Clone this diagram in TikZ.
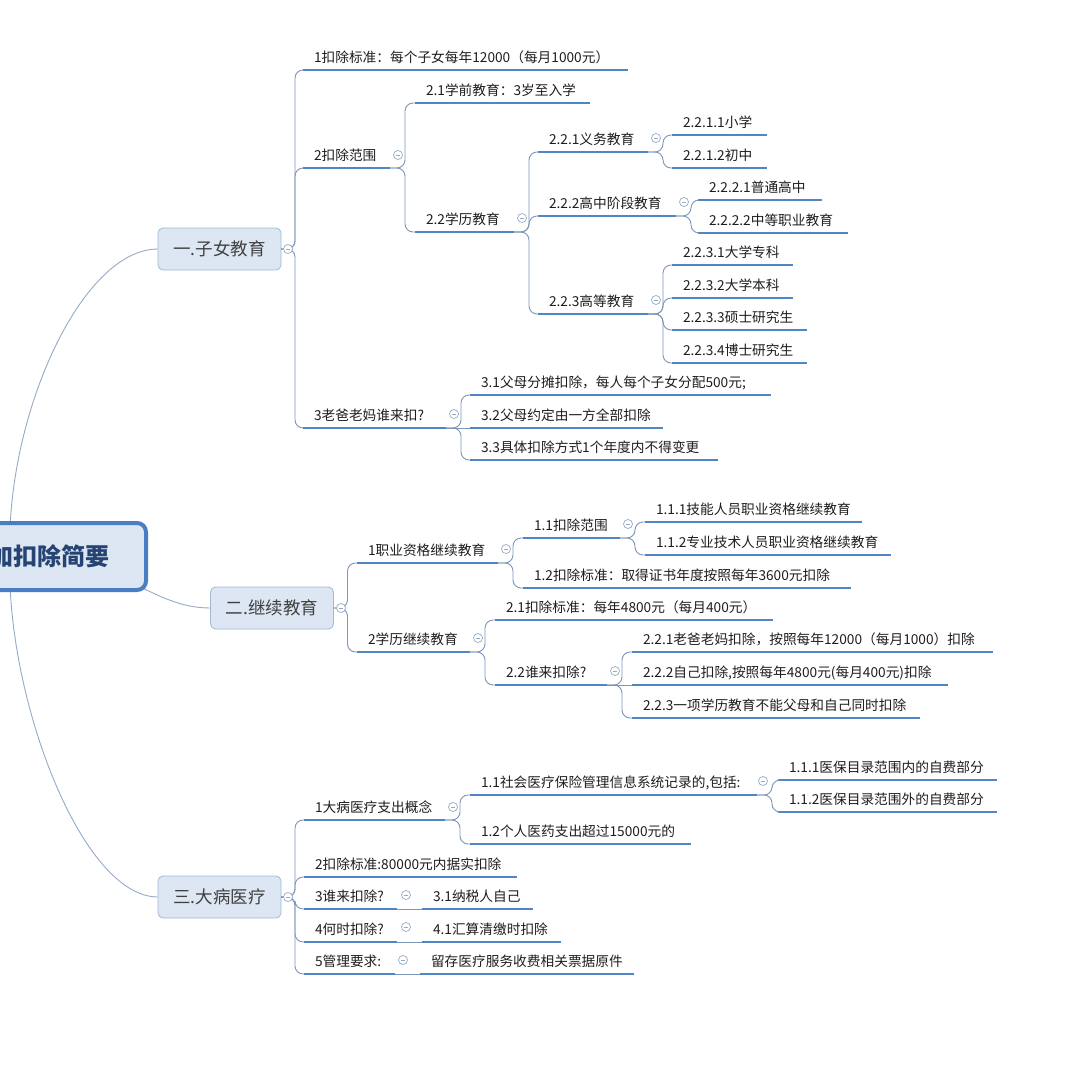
\documentclass[tikz,border=0pt]{standalone}
\usepackage{fontspec}
\newfontfamily\cjk{Noto Sans CJK SC}
\usetikzlibrary{backgrounds,calc}
\definecolor{uline}{RGB}{79,134,198}
\definecolor{connc}{RGB}{125,150,185}
\definecolor{rootc}{RGB}{150,170,200}
\definecolor{boxfill}{RGB}{221,231,243}
\definecolor{boxdraw}{RGB}{160,185,215}
\definecolor{rootdraw}{RGB}{74,126,196}
\definecolor{roottext}{RGB}{38,68,115}
\definecolor{txt}{RGB}{30,30,30}
\definecolor{markc}{RGB}{150,170,195}
\newcommand{\lf}[5]{%
  \pgfmathsetlengthmacro{\lfw}{#4-22}%
  \node[leaf, text width=\lfw] (#1) at (#2,#3) {#5};
  \draw[ul] (#1.south west) -- (#1.south east);}
\newcommand{\mk}[3]{\node[colbtn] (#1) at (#2,#3) {};}
\newcommand{\br}[2]{\draw[conn] (#1.south east) -- ++(15,0) |- (#2.south west);}
\newcommand{\st}[2]{\draw[conn] (#1.south east) -- (#2.south west);}
\newcommand{\bbr}[2]{\draw[conn] (#1.east) -- ++(14,0) |- (#2.south west);}
\begin{document}
\begin{tikzpicture}[x=1pt,y=-1pt,
  leaf/.style={anchor=south west, inner xsep=11pt, inner ysep=5pt, outer sep=0pt,
    text height=10pt, text depth=3pt, align=left,
    font=\cjk\fontsize{13.7}{16}\selectfont, text=txt},
  ul/.style={draw=uline, line width=2.6pt},
  conn/.style={draw=connc, line width=0.9pt, rounded corners=8pt},
  rootconn/.style={draw=rootc, line width=0.9pt},
  topic/.style={rectangle, rounded corners=5pt, draw=boxdraw, fill=boxfill,
    line width=0.8pt, minimum width=123pt, minimum height=42pt, outer sep=0pt,
    font=\cjk\fontsize{17.5}{20}\selectfont, text=txt!85},
  rootbox/.style={rectangle, rounded corners=9pt, draw=rootdraw, fill=boxfill,
    line width=4pt, minimum height=67pt, text width=200pt, align=right,
    inner xsep=36pt, font=\cjk\bfseries\fontsize{24}{28}\selectfont, text=roottext},
  colbtn/.style={circle, draw=markc, fill=white, line width=0.7pt, minimum size=9pt,
    inner sep=0pt, path picture={\draw[markc, line width=0.7pt]
      ([xshift=2.3pt]path picture bounding box.west) --
      ([xshift=-2.3pt]path picture bounding box.east);}}
]
\useasboundingbox (0,0) rectangle (1072,1079);
\clip (0,0) rectangle (1072,1079);

% root and main topics
\node[rootbox, anchor=east] (root) at (148,556.5) {加扣除简要};
\node[topic] (t1) at (219.5,249) {一.子女教育};
\node[topic] (t2) at (272,608) {二.继续教育};
\node[topic] (t3) at (219.5,897) {三.大病医疗};

\begin{scope}[on background layer]
\fill[white] (0,0) rectangle (1072,1079);
\draw[rootconn] (root.center) .. controls (5,420) and (80,249) .. (t1.west);
\draw[rootconn] (root.center) .. controls (130,560) and (150,608) .. (t2.west);
\draw[rootconn] (root.center) .. controls (5,692) and (80,897) .. (t3.west);
\end{scope}

% ===== 一.子女教育 =====
\lf{a1}{303}{70}{325}{1扣除标准：每个子女每年12000（每月1000元）}
\lf{a2}{303}{168}{87}{2扣除范围}
\lf{a3}{303}{428}{143}{3老爸老妈谁来扣?}
\lf{a21}{415}{103}{175}{2.1学前教育：3岁至入学}
\lf{a22}{415}{232}{99}{2.2学历教育}
\lf{a221}{538}{152}{110}{2.2.1义务教育}
\lf{a222}{538}{216}{138}{2.2.2高中阶段教育}
\lf{a223}{538}{314}{110}{2.2.3高等教育}
\lf{a2211}{672}{135}{95}{2.2.1.1小学}
\lf{a2212}{672}{168}{95}{2.2.1.2初中}
\lf{a2221}{698}{200}{124}{2.2.2.1普通高中}
\lf{a2222}{698}{233}{150}{2.2.2.2中等职业教育}
\lf{a2231}{672}{265}{121}{2.2.3.1大学专科}
\lf{a2232}{672}{298}{121}{2.2.3.2大学本科}
\lf{a2233}{672}{330}{135}{2.2.3.3硕士研究生}
\lf{a2234}{672}{363}{135}{2.2.3.4博士研究生}
\lf{a31}{470}{395}{301}{3.1父母分摊扣除，每人每个子女分配500元;}
\lf{a32}{470}{428}{193}{3.2父母约定由一方全部扣除}
\lf{a33}{470}{460}{248}{3.3具体扣除方式1个年度内不得变更}

\bbr{t1}{a1}\bbr{t1}{a2}\bbr{t1}{a3}
\br{a2}{a21}\br{a2}{a22}
\br{a22}{a221}\br{a22}{a222}\br{a22}{a223}
\br{a221}{a2211}\br{a221}{a2212}
\br{a222}{a2221}\br{a222}{a2222}
\br{a223}{a2231}\br{a223}{a2232}\br{a223}{a2233}\br{a223}{a2234}
\br{a3}{a31}\st{a3}{a32}\br{a3}{a33}

\mk{m1}{288}{249}
\mk{ma2}{398}{155}
\mk{ma22}{522}{218}
\mk{ma221}{656}{138}
\mk{ma222}{684}{202}
\mk{ma223}{656}{300}
\mk{ma3}{454}{414}

% ===== 二.继续教育 =====
\lf{b1}{357}{563}{141}{1职业资格继续教育}
\lf{b2}{357}{652}{113}{2学历继续教育}
\lf{b11}{523}{538}{97}{1.1扣除范围}
\lf{b12}{523}{588}{328}{1.2扣除标准：取得证书年度按照每年3600元扣除}
\lf{b111}{645}{522}{217}{1.1.1技能人员职业资格继续教育}
\lf{b112}{645}{555}{246}{1.1.2专业技术人员职业资格继续教育}
\lf{b21}{495}{620}{278}{2.1扣除标准：每年4800元（每月400元）}
\lf{b22}{495}{685}{112}{2.2谁来扣除?}
\lf{b221}{632}{652}{361}{2.2.1老爸老妈扣除，按照每年12000（每月1000）扣除}
\lf{b222}{632}{685}{316}{2.2.2自己扣除,按照每年4800元(每月400元)扣除}
\lf{b223}{632}{718}{288}{2.2.3一项学历教育不能父母和自己同时扣除}

\bbr{t2}{b1}\bbr{t2}{b2}
\br{b1}{b11}\br{b1}{b12}
\br{b11}{b111}\br{b11}{b112}
\br{b2}{b21}\br{b2}{b22}
\br{b22}{b221}\st{b22}{b222}\br{b22}{b223}

\mk{m2}{341}{608}
\mk{mb1}{506}{549}
\mk{mb11}{628}{524}
\mk{mb2}{478}{638}
\mk{mb22}{615}{671}

% ===== 三.大病医疗 =====
\lf{c1}{304}{820}{141}{1大病医疗支出概念}
\lf{c2}{304}{877}{213}{2扣除标准:80000元内据实扣除}
\lf{c3}{304}{909}{93}{3谁来扣除?}
\lf{c4}{304}{942}{93}{4何时扣除?}
\lf{c5}{304}{974}{91}{5管理要求:}
\lf{c11}{470}{795}{287}{1.1社会医疗保险管理信息系统记录的,包括:}
\lf{c12}{470}{844}{221}{1.2个人医药支出超过15000元的}
\lf{c111}{778}{780}{219}{1.1.1医保目录范围内的自费部分}
\lf{c112}{778}{812}{219}{1.1.2医保目录范围外的自费部分}
\lf{c31}{422}{909}{111}{3.1纳税人自己}
\lf{c41}{422}{942}{139}{4.1汇算清缴时扣除}
\lf{c51}{420}{974}{214}{留存医疗服务收费相关票据原件}

\bbr{t3}{c1}\bbr{t3}{c2}\bbr{t3}{c3}\bbr{t3}{c4}\bbr{t3}{c5}
\br{c1}{c11}\br{c1}{c12}
\br{c11}{c111}\br{c11}{c112}
\st{c3}{c31}\st{c4}{c41}\st{c5}{c51}

\mk{m3}{288}{897}
\mk{mc1}{453}{807}
\mk{mc11}{763}{781}
\mk{mc3}{406}{895}
\mk{mc4}{406}{927}
\mk{mc5}{403}{960}
\end{tikzpicture}
\end{document}
